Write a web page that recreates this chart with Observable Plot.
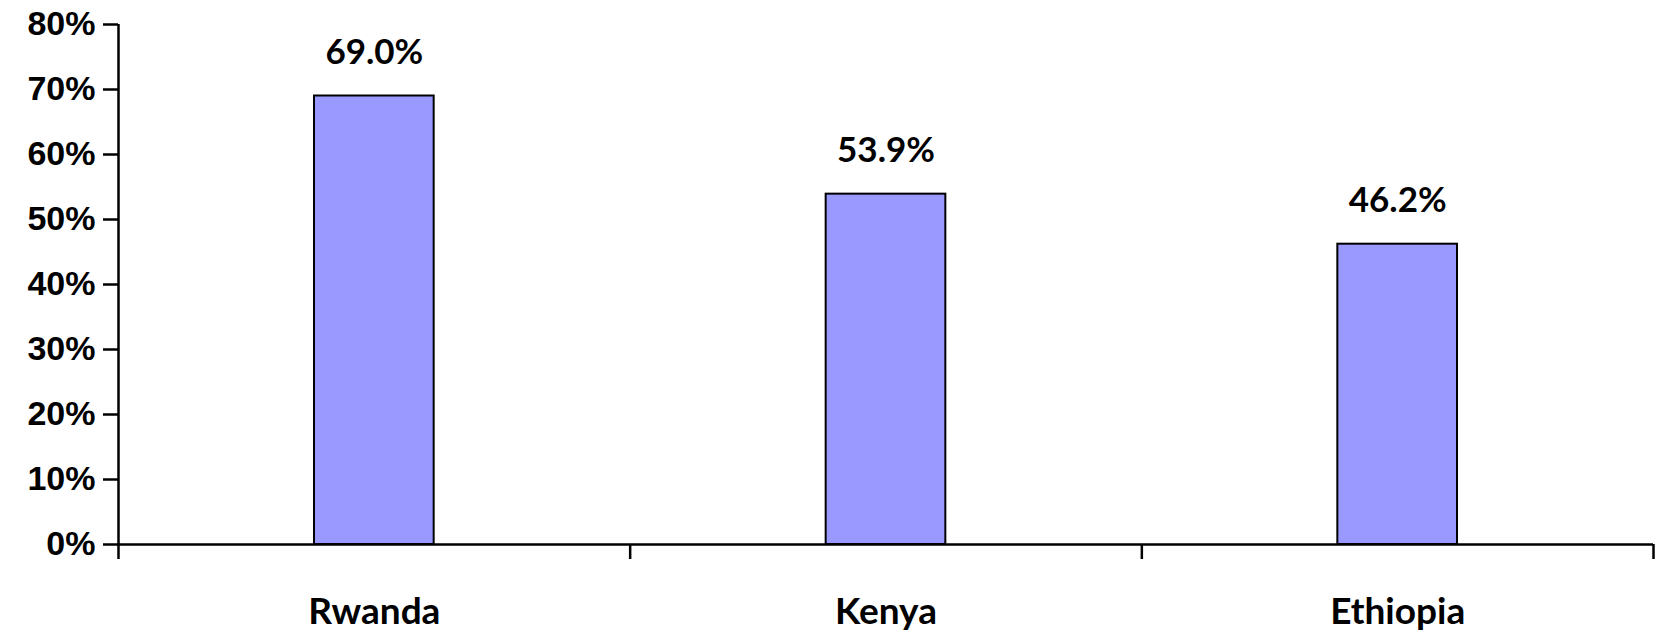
<!DOCTYPE html>
<html>
<head>
<meta charset="utf-8">
<script src="https://cdn.jsdelivr.net/npm/d3@7"></script>
<script src="https://cdn.jsdelivr.net/npm/@observablehq/plot@0.6"></script>
<style>
  html, body { margin: 0; padding: 0; background: #fff; }
</style>
</head>
<body>
<div id="chart"></div>
<script>
// Share of respondents, by country
const countries = ["Rwanda", "Kenya", "Ethiopia"];
const shares = [69.0, 53.9, 46.2];
const yTicks = [0, 10, 20, 30, 40, 50, 60, 70, 80];

// Each country occupies one unit slot on a linear x scale: [i, i + 1]
const rows = countries.map((name, i) => ({name, i, value: shares[i]}));
const slotEdges = d3.range(countries.length + 1);
const slotCenters = countries.map((_, i) => i + 0.5);

const labelFont = "Lato, 'Open Sans', sans-serif";
const tickFont = "'Liberation Sans', Arial, sans-serif";

const chart = Plot.plot({
  width: 1659,
  height: 631,
  marginLeft: 118,
  marginRight: 6,
  marginTop: 24,
  marginBottom: 87,
  x: {type: "linear", domain: [0, countries.length], axis: null},
  y: {domain: [0, 80], axis: null},
  style: {background: "#fff", color: "#000"},
  marks: [
    Plot.rectY(rows, {
      x1: "i", x2: d => d.i + 1, y: "value",
      insetLeft: 196, insetRight: 196,
      fill: "#9999ff", stroke: "#000", strokeWidth: 2
    }),
    // value labels above bars
    Plot.text(rows, {
      x: d => d.i + 0.5, y: "value", text: d => d.value.toFixed(1) + "%",
      dy: -43, fontSize: 35, fontWeight: "bold", fontFamily: labelFont, fill: "#000"
    }),
    // y axis
    Plot.axisY({
      ticks: yTicks, tickSize: 15, tickPadding: 8, label: null,
      tickFormat: d => d + "%",
      fontSize: 34, fontWeight: "bold", fontFamily: tickFont,
      strokeWidth: 2.5, stroke: "#000", fill: "#000"
    }),
    Plot.ruleX([0], {stroke: "#000", strokeWidth: 2.5}),
    // x axis: tick marks on slot boundaries, names at slot centres
    Plot.axisX({
      ticks: slotEdges, tickSize: 15, tickFormat: () => "", label: null,
      strokeWidth: 2.5, stroke: "#000"
    }),
    Plot.axisX({
      ticks: slotCenters, tickSize: 0, tickPadding: 53, label: null,
      tickFormat: d => countries[Math.round(d - 0.5)],
      fontSize: 37, fontWeight: "bold", fontFamily: labelFont, fill: "#000"
    }),
    Plot.ruleY([0], {stroke: "#000", strokeWidth: 2.5})
  ]
});

document.getElementById("chart").appendChild(chart);
</script>
</body>
</html>
